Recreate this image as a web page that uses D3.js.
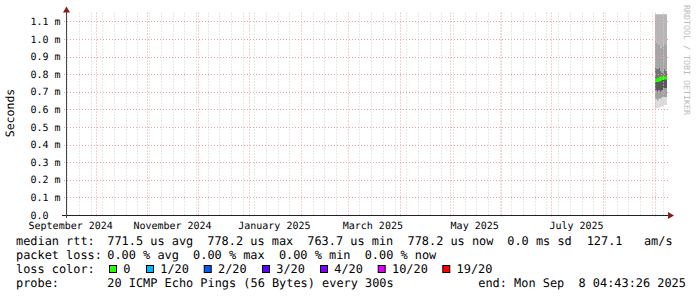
<!DOCTYPE html>
<html>
<head>
<meta charset="utf-8">
<script src="https://cdn.jsdelivr.net/npm/d3@7"></script>
<style>
  body { margin: 0; background: #fff; }
  text { font-family: "DejaVu Sans Mono", monospace; white-space: pre; text-rendering: geometricPrecision; }
</style>
</head>
<body>
<svg id="chart" width="697" height="297"></svg>
<script>
// time range of the graph (last 360 days)
const endTime = "2025-09-08T04:43:26";
const spanDays = 360;

// y axis (milliseconds)
const yTicks = [0, 0.1, 0.2, 0.3, 0.4, 0.5, 0.6, 0.7, 0.8, 0.9, 1.0, 1.1];
const yMax = 1.15;

// smoke data: one row per day, sorted ping quantiles in ms
const pingDays = ["2025-09-01", "2025-09-02", "2025-09-03", "2025-09-04", "2025-09-05", "2025-09-06", "2025-09-07"];
const pingMax  = [1.14, 1.14, 1.14, 1.14, 1.14, 1.14, 1.14];
const ping90   = [0.99, 0.98, 0.97, 0.95, 0.96, 0.98, 0.97];
const ping75   = [0.84, 0.83, 0.84, 0.82, 0.81, 0.83, 0.82];
const pingMed  = [0.764, 0.766, 0.768, 0.775, 0.778, 0.778, 0.778];
const ping25   = [0.71, 0.70, 0.71, 0.70, 0.71, 0.72, 0.72];
const ping10   = [0.66, 0.65, 0.66, 0.66, 0.67, 0.67, 0.67];
const pingMin  = [0.605, 0.608, 0.61, 0.615, 0.62, 0.625, 0.625];

// legend
const rttStats = ["771.5 us avg", "778.2 us max", "763.7 us min", "778.2 us now", "0.0 ms sd", "127.1   am/s"];
const lossStats = ["0.00 % avg", "0.00 % max", "0.00 % min", "0.00 % now"];
const lossLabels = ["0", "1/20", "2/20", "3/20", "4/20", "10/20", "19/20"];
const lossColors = ["#26ff00", "#00b8ff", "#0059ff", "#5e00ff", "#7e00ff", "#dd00ff", "#ff0000"];
const probeText = "20 ICMP Echo Pings (56 Bytes) every 300s";
const endText = "end: Mon Sep  8 04:43:26 2025";

const svg = d3.select("#chart");
const parseDay = d3.timeParse("%Y-%m-%d");
const end = d3.timeParse("%Y-%m-%dT%H:%M:%S")(endTime);
const start = d3.timeDay.offset(end, -spanDays);

const plotL = 66, plotR = 667, plotB = 215;
const x = d3.scaleTime().domain([start, end]).range([plotL, plotR]);
const y = d3.scaleLinear().domain([0, yMax]).range([plotB, plotB - yMax * 176]);
const plotT = y(yMax);

// build rows, repeat last row at end time so the step reaches the edge
const rows = pingDays.map((d, i) => ({
  t: parseDay(d),
  lv: [pingMin[i], ping10[i], ping25[i], pingMed[i], ping75[i], ping90[i], pingMax[i]]
}));
rows.push({ t: end, lv: rows[rows.length - 1].lv });

// smoke bands, darker near the median
const shades = ["#dcdcdc", "#a0a0a0", "#585858", "#747474", "#a6a6a6", "#b6b6b6"];
shades.forEach((c, k) => {
  const area = d3.area()
    .curve(d3.curveStepAfter)
    .x(d => x(d.t))
    .y0(d => y(d.lv[k]))
    .y1(d => y(d.lv[k + 1]));
  svg.append("path").attr("d", area(rows)).attr("fill", c);
});

// median line, colour = loss 0
const medLine = d3.line().curve(d3.curveStepAfter).x(d => x(d.t)).y(d => y(d.lv[3]));
svg.append("path").attr("d", medLine(rows))
  .attr("fill", "none").attr("stroke", lossColors[0]).attr("stroke-width", 3);

// grid
const grid = svg.append("g");
const months = d3.timeMonth.range(d3.timeMonth.ceil(start), end);
const weeks = d3.timeSaturday.range(start, end)
  .filter(w => !months.some(m => +m === +d3.timeDay.floor(w)));

grid.selectAll(".wk").data(weeks).join("line")
  .attr("x1", d => Math.round(x(d)) + 0.5).attr("x2", d => Math.round(x(d)) + 0.5)
  .attr("y1", plotT).attr("y2", plotB)
  .attr("stroke", "#d2d2d2").attr("stroke-dasharray", "1,2");

grid.selectAll(".mo").data(months).join("line")
  .attr("x1", d => Math.round(x(d)) + 0.5).attr("x2", d => Math.round(x(d)) + 0.5)
  .attr("y1", plotT).attr("y2", plotB + 2)
  .attr("stroke", "#eba4a4").attr("stroke-dasharray", "1,2");

grid.selectAll(".hy").data(yTicks.slice(1)).join("line")
  .attr("x1", plotL - 2).attr("x2", plotR + 2)
  .attr("y1", d => Math.round(y(d)) + 0.5).attr("y2", d => Math.round(y(d)) + 0.5)
  .attr("stroke", "#eba4a4").attr("stroke-dasharray", "1,2");

// axes
svg.append("line").attr("x1", plotL - 4).attr("x2", plotR + 3)
  .attr("y1", plotB + 0.5).attr("y2", plotB + 0.5).attr("stroke", "#222");
svg.append("line").attr("x1", plotL + 0.5).attr("x2", plotL + 0.5)
  .attr("y1", plotB + 3).attr("y2", plotT - 3).attr("stroke", "#444");
svg.append("path")
  .attr("d", `M${plotR + 1},${plotB - 3}L${plotR + 7},${plotB + 0.5}L${plotR + 1},${plotB + 4}Z`)
  .attr("fill", "#8b1c1c");
svg.append("path")
  .attr("d", `M${plotL - 3},${plotT}L${plotL + 0.5},${plotT - 6}L${plotL + 4},${plotT}Z`)
  .attr("fill", "#8b1c1c");

// y tick labels
svg.selectAll(".yl").data(yTicks).join("text")
  .attr("x", 30.5).attr("y", d => y(d)).attr("dy", "0.36em")
  .attr("font-size", 10)
  .text(d => d === 0 ? "0.0" : d3.format(".1f")(d) + " m");

// x labels every second month (Sep, Nov, ...), centred on the middle of the month
const labelMonths = d3.timeMonth.range(d3.timeMonth.floor(start), end)
  .filter(m => m.getMonth() % 2 === 0 && d3.timeDay.offset(m, 15) < end);
svg.selectAll(".xl").data(labelMonths).join("text")
  .attr("x", d => x(d3.timeDay.offset(d, 15))).attr("y", 229)
  .attr("text-anchor", "middle").attr("font-size", 10)
  .text(d3.timeFormat("%B %Y"));

// axis title and watermark
svg.append("text").attr("transform", "translate(14,113) rotate(-90)")
  .attr("text-anchor", "middle").attr("font-size", 11.5).text("Seconds");
svg.append("text").attr("transform", "translate(684,60) rotate(90)")
  .attr("text-anchor", "middle").attr("font-size", 8.3).attr("fill", "#bcbcbc")
  .text("RRDTOOL / TOBI OETIKER");

// legend
const lg = svg.append("g").attr("font-size", 11.9);
const rowY = [245, 259, 273, 287];
lg.append("text").attr("x", 16).attr("y", rowY[0]).text("median rtt:");
const rttX = [107.3, 207.3, 307.3, 407.5, 507.3, 586.7];
rttStats.forEach((s, i) => lg.append("text").attr("x", rttX[i]).attr("y", rowY[0]).text(s));

lg.append("text").attr("x", 16).attr("y", rowY[1]).text("packet loss:");
lossStats.forEach((s, i) => lg.append("text").attr("x", 107.3 + i * 85.8).attr("y", rowY[1]).text(s));

lg.append("text").attr("x", 16).attr("y", rowY[2]).text("loss color:");
const boxX = [109, 146, 203.7, 262, 320, 377.7, 442.3];
lossLabels.forEach((s, i) => {
  lg.append("rect").attr("x", boxX[i] + 0.5).attr("y", rowY[2] - 7.5).attr("width", 7).attr("height", 7)
    .attr("fill", lossColors[i]).attr("stroke", "#000");
  lg.append("text").attr("x", boxX[i] + 14.3).attr("y", rowY[2]).text(s);
});

lg.append("text").attr("x", 16).attr("y", rowY[3]).text("probe:");
lg.append("text").attr("x", 107.3).attr("y", rowY[3]).text(probeText);
lg.append("text").attr("x", 478.3).attr("y", rowY[3]).text(endText);
</script>
</body>
</html>
